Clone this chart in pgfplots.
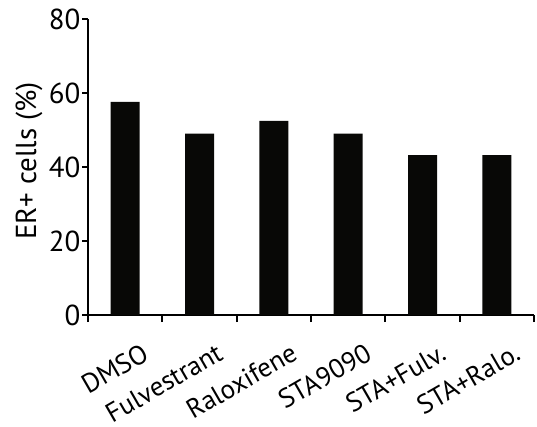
\documentclass[border=0pt]{standalone}
\usepackage{fontspec}
\setmainfont{PT Sans}
\usepackage{pgfplots}
\pgfplotsset{compat=1.18}

\definecolor{barblack}{HTML}{080806}

\begin{document}
\begin{tikzpicture}[x=1bp,y=1bp]
\useasboundingbox (0,0) rectangle (537,426);
\begin{axis}[
  at={(88bp,111bp)}, anchor=south west,
  scale only axis,
  width=446bp, height=296bp,
  xmin=-0.5, xmax=5.5,
  ymin=0, ymax=80,
  axis x line*=bottom, axis y line*=left,
  axis line style={line width=1.8bp, -},
  ytick={0,20,40,60,80},
  xtick={0,1,2,3,4,5},
  xticklabels={DMSO,Fulvestrant,Raloxifene,STA9090,STA+Fulv.,STA+Ralo.},
  minor xtick={-0.5,0.5,1.5,2.5,3.5,4.5,5.5},
  major x tick style={draw=none},
  tick align=outside,
  major tick length=6bp,
  minor tick length=7bp,
  every tick/.style={line width=1.8bp, black},
  /pgf/number format/assume math mode=true,
  tick label style={font=\fontsize{29}{34}\selectfont, text=black},
  yticklabel style={inner sep=1.5bp},
  xticklabel style={rotate=30, anchor=north east, xshift=3bp, yshift=-26bp, inner sep=0pt, font=\fontsize{27}{32}\selectfont},
  ylabel={ER+ cells (\%)},
  every axis y label/.style={at={(axis description cs:-0.132,0.52)}, rotate=90, anchor=center, font=\fontsize{29}{34}\selectfont},
  clip=false,
]
\addplot[ybar, bar width=29bp, fill=barblack, draw=none] coordinates {
  (0,57.6) (1,49.0) (2,52.5) (3,49.0) (4,43.2) (5,43.2)
};
\end{axis}
\end{tikzpicture}
\end{document}
